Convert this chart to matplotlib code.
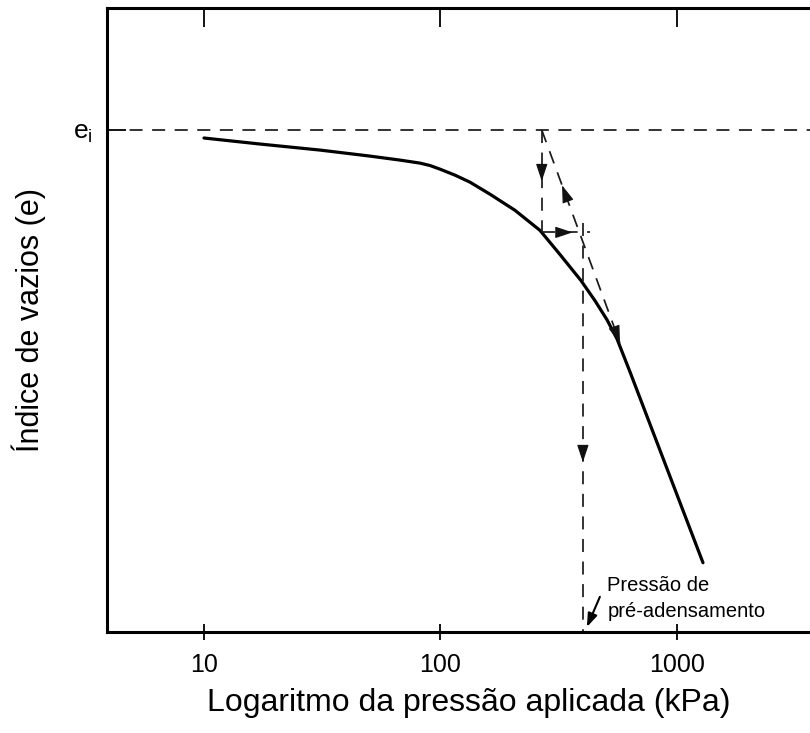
import numpy as np
import matplotlib
matplotlib.use("Agg")
import matplotlib.pyplot as plt
from matplotlib.ticker import FixedLocator, NullLocator

plt.rcParams["font.family"] = ["Liberation Sans", "DejaVu Sans"]
plt.rcParams["mathtext.fontset"] = "custom"
plt.rcParams["mathtext.rm"] = "Liberation Sans"
plt.rcParams["mathtext.it"] = "Liberation Sans"

# curva e x log(p) do ensaio de adensamento
pressao = [10, 17.25, 30.9, 50.3, 67.4, 81.9, 90.3, 99.5, 115.2, 133.3, 162, 206.5,
           263.5, 320, 392.8, 450, 505.8, 557.5, 633, 1288]
indice_vazios = [0.992, 0.986, 0.980, 0.974, 0.970, 0.967, 0.9646, 0.961, 0.955, 0.948,
                 0.936, 0.920, 0.900, 0.876, 0.850, 0.830, 0.811, 0.792, 0.759, 0.569]

# construção gráfica (Pacheco Silva)
e_inicial = 1.0
p_intersecao = 268      # prolongamento da reta virgem cruza e_i
e_curva = 0.898         # e na curva sob p_intersecao
p_reta_fim = 574        # onde o prolongamento encontra a curva
e_reta_fim = 0.788
p_pre_adensamento = 400

ticks_x = [10, 100, 1000]
ticks_x_rotulos = ["10", "100", "1000"]

xlim = (3.89, 4436)
ylim = (0.5, 1.1215)

fig = plt.figure(figsize=(8.1, 7.33), dpi=100)
ax = fig.add_axes([0.1321, 0.1378, 0.8926, 0.8513])
ax.set_xscale("log")
ax.set_xlim(*xlim)
ax.set_ylim(*ylim)

ax.plot(pressao, indice_vazios, color="k", lw=2.3,
        solid_capstyle="round", solid_joinstyle="round")

tracejado = dict(color="#1a1a1a", lw=1.25, ls=(0, (7.5, 5.5)))
ax.axhline(e_inicial, **tracejado)
ax.plot([p_intersecao, p_intersecao], [e_inicial, e_curva], **tracejado)
ax.plot([p_intersecao, p_pre_adensamento * 1.07], [e_curva, e_curva], **tracejado)
ax.plot([p_intersecao, p_reta_fim], [e_inicial, e_reta_fim], **tracejado)
ax.plot([p_pre_adensamento, p_pre_adensamento], [e_curva + 0.009, ylim[0]], **tracejado)


def seta(p0, e0, p1, e1, frac, comp=12):
    """Ponta de seta sobre o segmento (p0,e0)->(p1,e1), na fração frac (em log p)."""
    lp = np.log10(p0) + frac * (np.log10(p1) - np.log10(p0))
    ee = e0 + frac * (e1 - e0)
    a = ax.transData.transform((p0, e0))
    b = ax.transData.transform((p1, e1))
    d = (b - a) / np.hypot(*(b - a))
    ponta = ax.transData.transform((10 ** lp, ee))
    cauda = ax.transData.inverted().transform(ponta - comp * d)
    ax.annotate("", xy=(10 ** lp, ee), xytext=cauda,
                arrowprops=dict(arrowstyle="-|>,head_length=0.6,head_width=0.2",
                                mutation_scale=18, color="#111111", lw=0.8,
                                shrinkA=0, shrinkB=0))


seta(p_intersecao, e_inicial, p_intersecao, e_curva, 0.5)
seta(p_intersecao, e_curva, p_pre_adensamento, e_curva, 0.75)
seta(p_reta_fim, e_reta_fim, p_intersecao, e_inicial, 0.74)
seta(p_intersecao, e_inicial, p_reta_fim, e_reta_fim, 1.0)
seta(p_pre_adensamento, e_curva, p_pre_adensamento, ylim[0], 0.575)

# indicação da pressão de pré-adensamento
ax.annotate("", xy=(p_pre_adensamento * 1.04, 0.505), xytext=(p_pre_adensamento * 1.18, 0.535),
            arrowprops=dict(arrowstyle="-|>,head_length=0.5,head_width=0.18",
                            mutation_scale=16, color="k", lw=1.5, shrinkA=0, shrinkB=0))
ax.text(p_pre_adensamento * 1.27, 0.556, "Pressão de\npré-adensamento",
        fontsize=14.5, va="top", ha="left", linespacing=1.5)

# eixos
for lado in ["left", "top", "bottom"]:
    ax.spines[lado].set_linewidth(2.2)
ax.spines["right"].set_visible(False)

ax.xaxis.set_major_locator(FixedLocator(ticks_x))
ax.xaxis.set_minor_locator(NullLocator())
ax.set_xticklabels(ticks_x_rotulos)
ax.tick_params(axis="x", which="major", bottom=True, top=True, direction="inout",
               length=12, width=1.3, labelsize=18, pad=9)
ax.set_yticks([e_inicial])
ax.set_yticklabels([r"$\mathrm{e_i}$"])
ax.tick_params(axis="y", direction="in", length=14, width=1.3, labelsize=19, pad=10)

# ticks do topo apontam para dentro
for t in ax.xaxis.get_major_ticks():
    t.tick2line.set_marker(3)
    t.tick2line.set_markersize(14)

ax.set_xlabel("Logaritmo da pressão aplicada (kPa)", fontsize=23, labelpad=8)
ax.set_ylabel("Índice de vazios (e)", fontsize=22)
ax.yaxis.set_label_coords(-0.084, 0.5)

fig.savefig("out.png", dpi=100)
